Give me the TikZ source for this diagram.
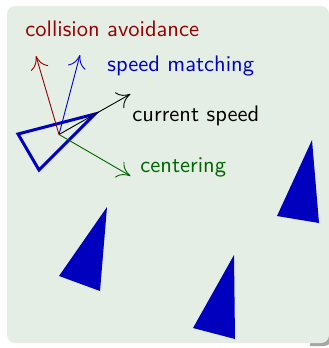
\documentclass[tikz,border=0pt]{standalone}
\usetikzlibrary{arrows.meta}
\definecolor{bgc}{RGB}{228,238,228}
\definecolor{cred}{RGB}{153,0,0}
\definecolor{cblue}{RGB}{0,0,204}
\definecolor{cgreen}{RGB}{0,102,0}
\definecolor{tri}{RGB}{0,0,190}
\tikzset{
  lbl/.style={inner sep=0pt,anchor=base west,font=\fontsize{10}{12}\selectfont\sffamily,scale=2.25},
  vec/.style={line width=0.9pt,-{Computer Modern Rightarrow[length=13pt,width=18pt,line width=0.9pt]}},
  boid/.style={fill=tri,draw=none},
}
\begin{document}
\begin{tikzpicture}[x=1pt,y=-1pt]
\useasboundingbox (0,0) rectangle (329,348);
\begin{scope}
\clip (310,325) rectangle (335,350);
\fill[gray!70,rounded corners=8pt] (10,9) rectangle (332,346);
\end{scope}
\fill[bgc,rounded corners=8pt] (7,6) rectangle (329,343);
% outline boid
\draw[tri,line width=3pt,line join=miter] (18,134) -- (39,170) -- (95,114) -- cycle;
\coordinate (o) at (59,134.5);
\coordinate (ca) at (36,56);
\coordinate (sm) at (80,55);
\coordinate (cs) at (130.5,94);
\coordinate (ce) at (130.5,176);
\draw[vec,cred] (o) -- (ca);
\draw[vec,cblue] (o) -- (sm);
\draw[vec,black] (o) -- (cs);
\draw[vec,cgreen] (o) -- (ce);
\node[lbl,text=cred] (tca) at (25,36) {collision avoidance};
\node[lbl,text=cblue] (tsm) at (107,71) {speed matching};
\node[lbl,text=black] (tcs) at (132,121) {current speed};
\node[lbl,text=cgreen] (tce) at (140,172) {centering};
% filled boids
\fill[boid] (312,140) -- (277,216) -- (319,223) -- cycle;
\fill[boid] (107,207) -- (59,276) -- (100,291) -- cycle;
\fill[boid] (234,255) -- (193,328) -- (235,339) -- cycle;
\end{tikzpicture}
\end{document}
